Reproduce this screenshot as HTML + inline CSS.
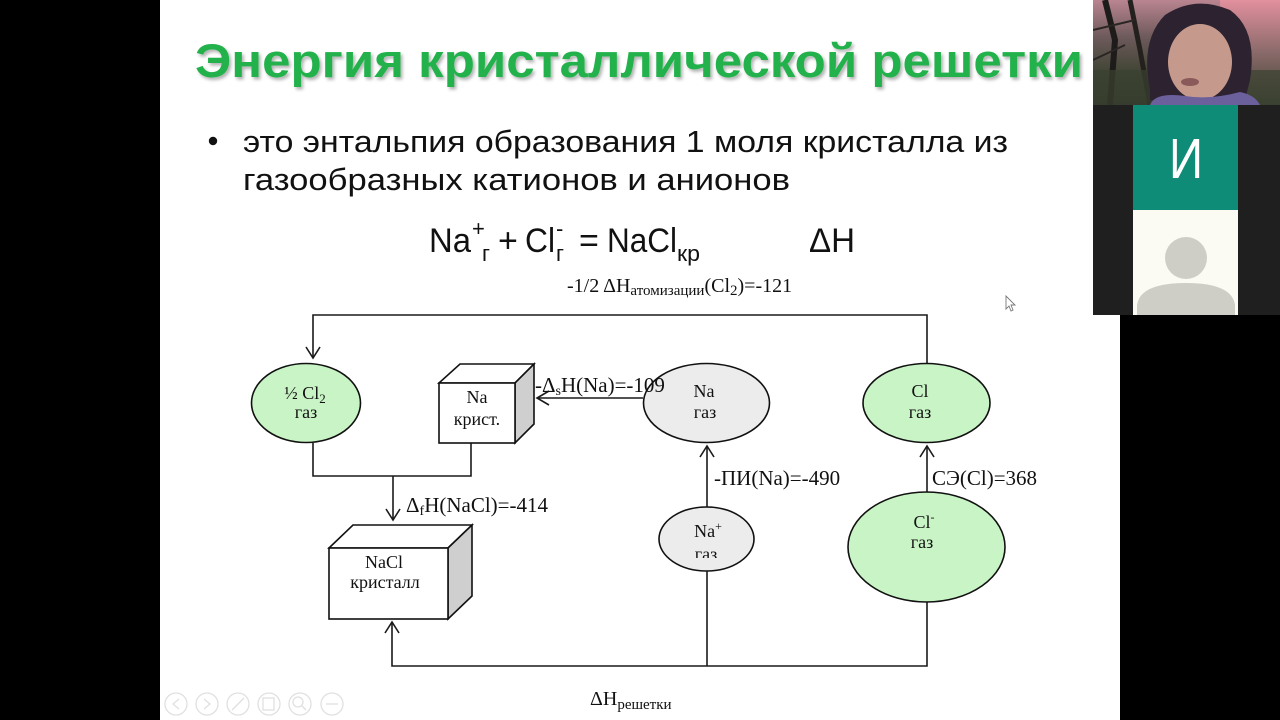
<!DOCTYPE html>
<html>
<head>
<meta charset="utf-8">
<style>
  html,body{margin:0;padding:0;background:#000;}
  body{width:1280px;height:720px;overflow:hidden;position:relative;}
  svg{position:absolute;left:0;top:0;display:block;}
  .s{font-family:"Liberation Sans","Noto Sans CJK SC",sans-serif;}
  .t{font-family:"Liberation Serif","Noto Serif CJK SC",serif;fill:#111;}
</style>
</head>
<body>
<svg width="1280" height="720" viewBox="0 0 1280 720" xmlns="http://www.w3.org/2000/svg">
  <defs>
    <linearGradient id="sky" x1="0" y1="0" x2="0" y2="1">
      <stop offset="0" stop-color="#b98590"/>
      <stop offset="0.35" stop-color="#6e5a5c"/>
      <stop offset="0.7" stop-color="#3f4433"/>
      <stop offset="1" stop-color="#2f3428"/>
    </linearGradient>
    <linearGradient id="skyR" x1="0" y1="0" x2="0" y2="1">
      <stop offset="0" stop-color="#e2909e"/>
      <stop offset="0.5" stop-color="#8a6a6a"/>
      <stop offset="1" stop-color="#3b4230"/>
    </linearGradient>
    <clipPath id="vid"><rect x="1093" y="0" width="187" height="105"/></clipPath>
    <clipPath id="naplus"><rect x="640" y="490" width="140" height="68"/></clipPath>
    <filter id="sh" x="-5%" y="-20%" width="110%" height="150%">
      <feDropShadow dx="2" dy="2.5" stdDeviation="1.5" flood-color="#000" flood-opacity="0.3"/>
    </filter>
  </defs>

  <!-- backgrounds -->
  <rect x="0" y="0" width="1280" height="720" fill="#000"/>
  <rect x="160" y="0" width="960" height="720" fill="#fff"/>

  <!-- Title -->
  <text class="s" x="195" y="77" font-size="47" font-weight="bold" fill="#22b14c" filter="url(#sh)" textLength="888" lengthAdjust="spacingAndGlyphs">Энергия кристаллической решетки</text>

  <!-- bullet -->
  <circle cx="213" cy="141" r="4.2" fill="#111"/>
  <text class="s" x="243" y="152" font-size="31" fill="#111" textLength="765" lengthAdjust="spacingAndGlyphs">это энтальпия образования 1 моля кристалла из</text>
  <text class="s" x="243" y="190" font-size="31" fill="#111" textLength="547" lengthAdjust="spacingAndGlyphs">газообразных катионов и анионов</text>

  <!-- equation -->
  <g class="s" fill="#111">
    <text x="429" y="252" font-size="34" textLength="42" lengthAdjust="spacingAndGlyphs">Na</text>
    <text x="472" y="236" font-size="22">+</text>
    <text x="482" y="261" font-size="22">г</text>
    <text x="498" y="252" font-size="34">+</text>
    <text x="525" y="252" font-size="34" textLength="30" lengthAdjust="spacingAndGlyphs">Cl</text>
    <text x="556" y="236" font-size="22">-</text>
    <text x="556" y="261" font-size="22">г</text>
    <text x="579" y="252" font-size="34">=</text>
    <text x="607" y="252" font-size="34" textLength="70" lengthAdjust="spacingAndGlyphs">NaCl</text>
    <text x="677" y="261" font-size="22" textLength="23" lengthAdjust="spacingAndGlyphs">кр</text>
    <text x="809" y="252" font-size="34" textLength="46" lengthAdjust="spacingAndGlyphs">ΔH</text>
  </g>

  <!-- Diagram label top -->
  <text class="t" x="567" y="292" font-size="20">-1/2 ΔH<tspan font-size="15" dy="3">атомизации</tspan><tspan dy="-3">(Cl</tspan><tspan font-size="15" dy="3">2</tspan><tspan dy="-3">)=-121</tspan></text>

  <!-- connectors -->
  <g fill="none" stroke="#1a1a1a" stroke-width="1.6">
    <path d="M927,364 V315 H313 V357"/>
    <path d="M306,347 L313,358 L320,347"/>
    <path d="M313,443 V476 H471 V443"/>
    <path d="M393,476 V519"/>
    <path d="M386,509 L393,520 L400,509"/>
    <path d="M643,398 H538"/>
    <path d="M549,391 L537,398 L549,405"/>
    <path d="M707,508 V447"/>
    <path d="M700,457 L707,446 L714,457"/>
    <path d="M927,492 V447"/>
    <path d="M920,457 L927,446 L934,457"/>
    <path d="M707,571 V666"/>
    <path d="M927,602 V666 H392 V623"/>
    <path d="M385,633 L392,622 L399,633"/>
  </g>

  <!-- nodes -->
  <g stroke="#111" stroke-width="1.6">
    <ellipse cx="306" cy="403" rx="54.5" ry="39.5" fill="#c9f5c6"/>
    <ellipse cx="706.5" cy="403" rx="63" ry="39.5" fill="#ececec"/>
    <ellipse cx="926.5" cy="403" rx="63.5" ry="39.5" fill="#c9f5c6"/>
    <ellipse cx="706.5" cy="539" rx="47.5" ry="32" fill="#ececec"/>
    <ellipse cx="926.5" cy="547" rx="78.5" ry="55" fill="#c9f5c6"/>
    <!-- Na cube -->
    <polygon points="439,383 460,364 534,364 515,383" fill="#fff"/>
    <polygon points="515,383 534,364 534,424 515,443" fill="#cfcfcf"/>
    <rect x="439" y="383" width="76" height="60" fill="#fff"/>
    <!-- NaCl cube -->
    <polygon points="329,548 353,525 472,525 448,548" fill="#fff"/>
    <polygon points="448,548 472,525 472,596 448,619" fill="#cfcfcf"/>
    <rect x="329" y="548" width="119" height="71" fill="#fff"/>
  </g>

  <!-- node text -->
  <g class="t" font-size="18" text-anchor="middle">
    <text x="305" y="399">½ Cl<tspan font-size="13" dy="4">2</tspan></text>
    <text x="306" y="418">газ</text>
    <text x="477" y="403">Na</text>
    <text x="477" y="425">крист.</text>
    <text x="704" y="397">Na</text>
    <text x="705" y="418">газ</text>
    <text x="920" y="397">Cl</text>
    <text x="920" y="418">газ</text>
    <text x="708" y="537">Na<tspan font-size="12" dy="-7">+</tspan></text>
    <text x="706" y="560" clip-path="url(#naplus)">газ</text>
    <text x="924" y="528">Cl<tspan font-size="12" dy="-7">-</tspan></text>
    <text x="922" y="548">газ</text>
    <text x="384" y="568">NaCl</text>
    <text x="385" y="588">кристалл</text>
  </g>

  <!-- edge labels -->
  <g class="t" font-size="21">
    <text x="535" y="392">-Δ<tspan font-size="14" dy="3">s</tspan><tspan dy="-3">H(Na)=-109</tspan></text>
    <text x="406" y="512">Δ<tspan font-size="14" dy="3">f</tspan><tspan dy="-3">H(NaCl)=-414</tspan></text>
    <text x="714" y="485">-ПИ(Na)=-490</text>
    <text x="932" y="485">СЭ(Cl)=368</text>
    <text x="590" y="705" font-size="20">ΔH<tspan font-size="15" dy="4">решетки</tspan></text>
  </g>

  <!-- toolbar icons -->
  <g fill="none" stroke="#e0e0e0" stroke-width="1.3">
    <circle cx="176" cy="704" r="11"/>
    <circle cx="207" cy="704" r="11"/>
    <circle cx="238" cy="704" r="11"/>
    <circle cx="269" cy="704" r="11"/>
    <circle cx="300" cy="704" r="11"/>
    <circle cx="332" cy="704" r="11"/>
    <path d="M179,699 L173,704 L179,709"/>
    <path d="M204,699 L210,704 L204,709"/>
    <path d="M232,710 L244,698"/>
    <rect x="263" y="698" width="11" height="12"/>
    <circle cx="298" cy="702" r="5"/>
    <path d="M302,706 L306,710"/>
    <path d="M326,704 H338"/>
  </g>

  <!-- cursor -->
  <path d="M1006,296 L1006,309 L1009,306 L1011,311 L1013,310 L1011,305 L1015,305 Z" fill="#fff" stroke="#777" stroke-width="0.9"/>

  <!-- webcam panel -->
  <rect x="1093" y="105" width="187" height="210" fill="#1f1f1f"/>
  <rect x="1133" y="105" width="105" height="105" fill="#0f8c78"/>
  <text class="s" x="1186" y="178" font-size="57" fill="#fff" text-anchor="middle" textLength="34" lengthAdjust="spacingAndGlyphs">И</text>
  <rect x="1133" y="210" width="105" height="105" fill="#fbfaf3"/>
  <circle cx="1186" cy="258" r="21" fill="#cfcec6"/>
  <path d="M1137,315 L1137,305 Q1140,283 1186,283 Q1232,283 1235,305 L1235,315 Z" fill="#cfcec6"/>

  <!-- video -->
  <g clip-path="url(#vid)">
    <rect x="1093" y="0" width="187" height="105" fill="url(#sky)"/>
    <rect x="1220" y="0" width="60" height="105" fill="url(#skyR)"/>
    <path d="M1105,0 L1115,40 L1110,105" stroke="#1e1c1a" stroke-width="6" fill="none"/>
    <path d="M1130,0 L1140,50 L1150,105" stroke="#24201e" stroke-width="5" fill="none"/>
    <path d="M1093,30 L1135,20 M1093,60 L1125,45" stroke="#2a2624" stroke-width="2" fill="none"/>
    <rect x="1093" y="70" width="187" height="35" fill="#3a4230" opacity="0.7"/>
    <path d="M1150,90 Q1140,40 1165,15 Q1195,-5 1230,10 Q1258,30 1250,80 L1245,100 L1150,100 Z" fill="#2d2230"/>
    <ellipse cx="1200" cy="62" rx="32" ry="38" fill="#c59a8c"/>
    <path d="M1165,40 Q1185,15 1230,28 Q1220,12 1195,12 Q1168,18 1165,40 Z" fill="#2d2230"/>
    <path d="M1150,105 Q1155,92 1185,96 Q1210,100 1240,92 Q1255,95 1260,105 Z" fill="#6b5f9c"/>
    <ellipse cx="1190" cy="82" rx="9" ry="4" fill="#8a5a5a"/>
  </g>
</svg>
</body>
</html>
